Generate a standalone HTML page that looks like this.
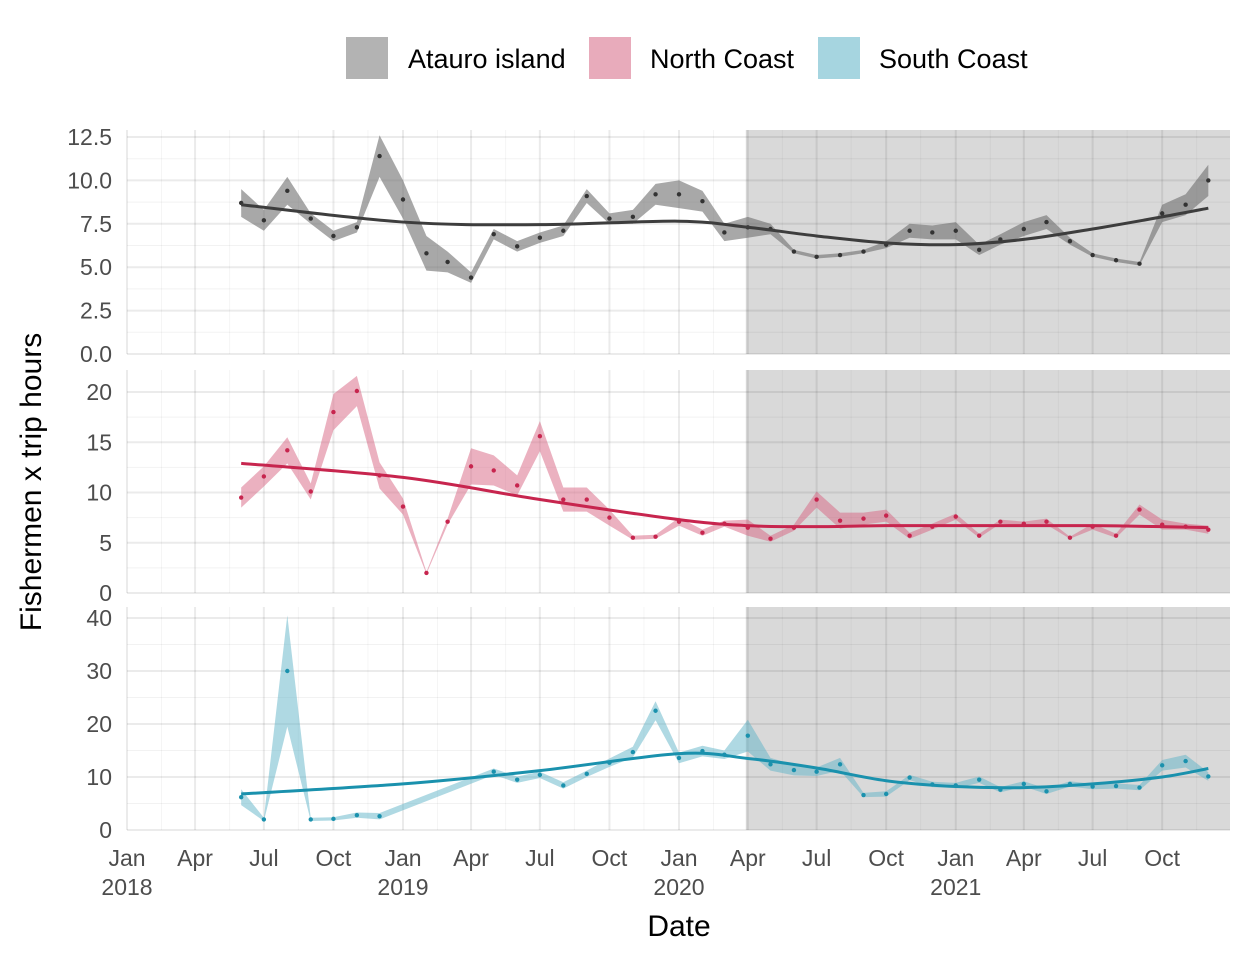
<!DOCTYPE html>
<html><head><meta charset="utf-8"><style>
body{margin:0;background:#fff;}
svg{font-family:"Liberation Sans",Arial,sans-serif;}
</style></head><body>
<svg id="chart" width="1248" height="960">
 <g id="legend">
  <rect x="346" y="37" width="42" height="42" fill="#b3b3b3"/>
  <text x="408" y="68" font-size="27" fill="#000">Atauro island</text>
  <rect x="589" y="37" width="42" height="42" fill="#e8abbb"/>
  <text x="650" y="68" font-size="27" fill="#000">North Coast</text>
  <rect x="818" y="37" width="42" height="42" fill="#a6d5e0"/>
  <text x="879" y="68" font-size="27" fill="#000">South Coast</text>
 </g>
 <text x="0" y="0" transform="translate(41,482) rotate(-90)" text-anchor="middle" font-size="30" fill="#000">Fishermen x trip hours</text>
 <text x="679" y="936" text-anchor="middle" font-size="30" fill="#000">Date</text>
</svg>
<script>
const months = ["2018-06","2018-07","2018-08","2018-09","2018-10","2018-11","2018-12","2019-01","2019-02","2019-03","2019-04","2019-05","2019-06","2019-07","2019-08","2019-09","2019-10","2019-11","2019-12","2020-01","2020-02","2020-03","2020-04","2020-05","2020-06","2020-07","2020-08","2020-09","2020-10","2020-11","2020-12","2021-01","2021-02","2021-03","2021-04","2021-05","2021-06","2021-07","2021-08","2021-09","2021-10","2021-11","2021-12"];
const atauroValues = [8.7,7.7,9.4,7.8,6.8,7.3,11.4,8.9,5.8,5.3,4.4,6.9,6.2,6.7,7.1,9.1,7.8,7.9,9.2,9.2,8.8,7.0,7.3,7.2,5.9,5.6,5.7,5.9,6.3,7.1,7.0,7.1,6.0,6.6,7.2,7.6,6.5,5.7,5.4,5.2,8.1,8.6,10.0];
const atauroBand = [0.8,0.6,0.8,0.3,0.3,0.3,1.2,1.1,1.0,0.6,0.3,0.3,0.3,0.3,0.3,0.4,0.3,0.4,0.6,0.8,0.6,0.5,0.6,0.3,0.1,0.1,0.1,0.1,0.2,0.4,0.4,0.5,0.3,0.3,0.4,0.4,0.2,0.1,0.1,0.1,0.5,0.6,0.9];
const northValues = [9.5,11.6,14.2,10.1,18.0,20.1,11.7,8.6,2.0,7.1,12.6,12.2,10.7,15.6,9.3,9.3,7.5,5.5,5.6,7.1,6.0,6.9,6.5,5.4,6.5,9.3,7.2,7.4,7.7,5.7,6.6,7.6,5.7,7.1,6.9,7.1,5.5,6.6,5.7,8.3,6.8,6.6,6.3];
const northBand = [1.0,1.0,1.3,0.8,1.8,1.5,1.3,0.8,0.1,0.3,1.8,1.5,1.0,1.5,1.2,1.2,0.8,0.2,0.2,0.4,0.3,0.3,0.8,0.3,0.3,0.8,0.8,0.6,0.6,0.3,0.3,0.3,0.2,0.2,0.2,0.3,0.1,0.3,0.2,0.5,0.5,0.3,0.4];
const southValues = [6.2,2.0,30.0,2.0,2.1,2.8,2.6,null,null,null,null,11.0,9.5,10.4,8.4,10.6,12.7,14.7,22.5,13.6,14.9,14.2,17.8,12.4,11.3,11.0,12.4,6.6,6.8,9.9,8.6,8.4,9.5,7.6,8.7,7.3,8.7,8.2,8.3,8.0,12.2,13.0,10.1];
const southBand = [1.5,0.3,10.5,0.3,0.3,0.5,0.6,null,null,null,null,0.6,0.6,0.6,0.6,0.6,0.8,1.0,1.8,1.0,1.0,0.8,3.0,1.2,1.0,0.8,1.2,0.4,0.5,0.5,0.5,0.5,0.6,0.5,0.5,0.5,0.5,0.5,0.5,0.5,1.0,1.2,0.8];
const trendMonths = ["2018-06","2019-01","2019-07","2020-01","2020-04","2020-07","2020-10","2021-01","2021-04","2021-07","2021-10","2021-12"];
const atauroTrend = [8.6,7.6,7.45,7.65,7.3,6.8,6.4,6.3,6.6,7.2,7.9,8.4];
const northTrend = [12.9,11.5,9.3,7.3,6.7,6.6,6.7,6.7,6.7,6.7,6.6,6.5];
const southTrend = [6.8,8.7,11.2,14.4,13.5,11.7,9.3,8.2,8.0,8.7,10.0,11.6];
const xTickLabels = ["Jan\n2018","Apr","Jul","Oct","Jan\n2019","Apr","Jul","Oct","Jan\n2020","Apr","Jul","Oct","Jan\n2021","Apr","Jul","Oct"];
const xTickDates = ["2018-01","2018-04","2018-07","2018-10","2019-01","2019-04","2019-07","2019-10","2020-01","2020-04","2020-07","2020-10","2021-01","2021-04","2021-07","2021-10"];
const shadeStart = "2020-04", shadeEnd = "2022-01";
const yTicks1 = [0,2.5,5,7.5,10,12.5], yTicks2=[0,5,10,15,20], yTicks3=[0,10,20,30,40];

const NS="http://www.w3.org/2000/svg";
const svg=document.getElementById('chart');
const X0=127, PXD=276/365, XR=1230;
function days(s){const [y,m]=s.split('-').map(Number);return (Date.UTC(y,m-1,1)-Date.UTC(2018,0,1))/864e5;}
function xs(s){return Math.min(XR, X0+days(s)*PXD);}
function mk(tag,attrs,parent){const e=document.createElementNS(NS,tag);for(const k in attrs)e.setAttribute(k,attrs[k]);(parent||svg).appendChild(e);return e;}
function smooth(pts){let d=`M${pts[0][0]},${pts[0][1]}`;for(let i=0;i<pts.length-1;i++){const p0=pts[i-1]||pts[i],p1=pts[i],p2=pts[i+1],p3=pts[i+2]||p2;d+=` C${p1[0]+(p2[0]-p0[0])/6},${p1[1]+(p2[1]-p0[1])/6} ${p2[0]-(p3[0]-p1[0])/6},${p2[1]-(p3[1]-p1[1])/6} ${p2[0]},${p2[1]}`;}return d;}

const panels=[
 {name:'atauro',top:130,bottom:354,max:12.5,ticks:yTicks1,minor:1.25,vals:atauroValues,band:atauroBand,trend:atauroTrend,rib:'rgba(110,110,110,0.6)',line:'#3d3d3d',pt:'#333'},
 {name:'north',top:370,bottom:593,max:20,ticks:yTicks2,minor:2.5,vals:northValues,band:northBand,trend:northTrend,rib:'rgba(216,100,130,0.5)',line:'#c7254e',pt:'#c7254e'},
 {name:'south',top:607,bottom:830,max:40,ticks:yTicks3,minor:5,vals:southValues,band:southBand,trend:southTrend,rib:'rgba(95,180,200,0.5)',line:'#1a91ad',pt:'#1a91ad'}
];
const yTop={atauro:137,north:392,south:618};
panels.forEach(p=>{
 const g=mk('g',{});
 
 
 const ys=v=>p.bottom-(p.bottom-yTop[p.name])*v/p.max;
 const sh=mk('rect',{x:xs(shadeStart)-2,y:p.top,width:xs(shadeEnd)-xs(shadeStart)+2,height:p.bottom-p.top,fill:'#d9d9d9'},g);
 
 
 for(let v=p.minor;v<=p.max+p.minor;v+=p.minor*2){const y=ys(v);if(y<p.top)continue;mk('line',{x1:X0,x2:XR,y1:y,y2:y,stroke:'rgba(0,0,0,0.05)','stroke-width':1},g);}
 for(let i=0;i<xTickDates.length;i++){const x=xs(xTickDates[i])+34.5;if(x<XR)mk('line',{x1:x,x2:x,y1:p.top,y2:p.bottom,stroke:'rgba(0,0,0,0.04)','stroke-width':1},g);}
 p.ticks.forEach(v=>{const y=ys(v);mk('line',{x1:X0,x2:XR,y1:y,y2:y,stroke:'rgba(0,0,0,0.08)','stroke-width':2},g);
  const t=mk('text',{x:112,y:y+8,'text-anchor':'end','font-size':23,fill:'#4d4d4d'},g);t.textContent=String(p.name==='atauro'?v.toFixed(1):v);
  
  });
 xTickDates.forEach(d=>{const x=xs(d);mk('line',{x1:x,x2:x,y1:p.top,y2:p.bottom,stroke:'rgba(0,0,0,0.08)','stroke-width':2},g);});
 let seg=[];const segs=[];
 months.forEach((m,i)=>{if(p.vals[i]==null){if(seg.length)segs.push(seg);seg=[];}else seg.push(i);});
 if(seg.length)segs.push(seg);
 const idx=[].concat(...segs);
 let up=idx.map(i=>[xs(months[i]),ys(p.vals[i]+p.band[i])]);
 let lo=idx.map(i=>[xs(months[i]),ys(Math.max(0,p.vals[i]-p.band[i]))]).reverse();
 const rb=mk('path',{d:'M'+up.concat(lo).map(q=>q.join(',')).join('L')+'Z',fill:p.rib},g);
 
 
 idx.forEach(i=>{const c=mk('circle',{cx:xs(months[i]),cy:ys(p.vals[i]),r:2.2,fill:p.pt},g);
  
  });
 const tl=mk('path',{d:smooth(trendMonths.map((m,i)=>[xs(m),ys(p.trend[i])])),fill:'none',stroke:p.line,'stroke-width':3},g);
 
 
});
xTickDates.forEach((d,i)=>{const parts=xTickLabels[i].split('\n');
 parts.forEach((s,j)=>{const t=mk('text',{x:xs(d),y:866+j*29,'text-anchor':'middle','font-size':23,fill:'#4d4d4d'});t.textContent=s;
 
 });});
</script>
</body></html>
